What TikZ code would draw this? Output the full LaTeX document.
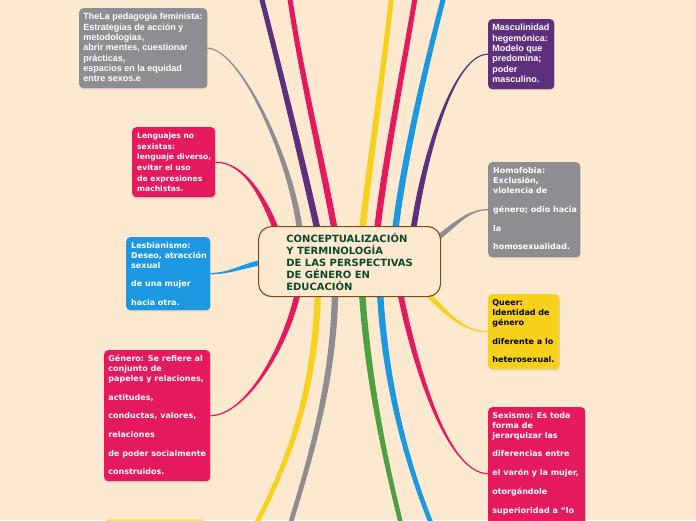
\documentclass[tikz,border=0pt]{standalone}
\usepackage{fontspec}
\setmainfont{DejaVu Sans}
\newfontfamily\arialf{Liberation Sans}
\usetikzlibrary{calc,shadows}
\definecolor{bgc}{HTML}{FDE8D0}
\definecolor{grayc}{HTML}{8E8E92}
\definecolor{pinkc}{HTML}{E5195E}
\definecolor{bluec}{HTML}{1B98E0}
\definecolor{purplec}{HTML}{5E2F7D}
\definecolor{yellowc}{HTML}{F8D11C}
\definecolor{greenc}{HTML}{4CA040}
\definecolor{brownc}{HTML}{7B4A1C}
\definecolor{titlec}{HTML}{0C4A2C}
\pgfdeclarelayer{bglayer}
\pgfdeclarelayer{linelayer}
\pgfsetlayers{bglayer,linelayer,main}
% tapered branch: #1 colour, #2 start (inside centre), #3 #4 controls, #5 end, #6 #7 half widths
\newcommand\taperlink[7]{%
  \path (#2) coordinate (tp0) (#3) coordinate (tp1) (#4) coordinate (tp2) (#5) coordinate (tp3);
  \path ($(tp0)!#6!90:(tp1)$) coordinate (tpa) ($(tp0)!#6!-90:(tp1)$) coordinate (tpb)
        ($(tp3)!#7!-90:(tp2)$) coordinate (tpc) ($(tp3)!#7!90:(tp2)$) coordinate (tpd);
  \fill[#1] (tpa) .. controls ($(tp1)+(tpa)-(tp0)$) and ($(tp2)+(tpc)-(tp3)$) .. (tpc)
     -- (tpd) .. controls ($(tp2)+(tpd)-(tp3)$) and ($(tp1)+(tpb)-(tp0)$) .. (tpb) -- cycle;
}
\tikzset{
  mmbox/.style={draw=none, fill=#1, rounded corners=4pt, inner sep=0pt, anchor=north west,
    drop shadow={opacity=0.22, shadow xshift=0.6pt, shadow yshift=-1.2pt}},
  mmtxt/.style={anchor=north west, inner sep=0pt, align=left, text=white,
    font=\bfseries\fontsize{8}{9.8}\selectfont},
  mmarial/.style={mmtxt, font=\arialf\bfseries\fontsize{9}{10.35}\selectfont},
}
\begin{document}
\begin{tikzpicture}[x=1pt,y=-1pt]
\useasboundingbox (0,0) rectangle (696,520);
\begin{pgfonlayer}{bglayer}
\fill[bgc] (0,0) rectangle (696,520);
\end{pgfonlayer}

% ---- boxes ----
\node[mmbox=grayc, minimum width=128, minimum height=80] (ped) at (79,8) {};
\node[mmarial] (pedt) at ($(ped.north west)+(4.2,3)$) {\rule{0pt}{8.5pt}TheLa pedagogia feminista:\\Estrategias de acción y\\metodologias,\\abrir mentes, cuestionar\\prácticas,\\espacios en la equidad\\entre sexos.e};

\node[mmbox=pinkc, minimum width=83, minimum height=70] (leng) at (132,127) {};
\node[mmtxt, font=\bfseries\fontsize{7.6}{10.6}\selectfont] (lengt) at ($(leng.north west)+(5,3)$) {\rule{0pt}{8.5pt}Lenguajes no\\sexistas:\\lenguaje diverso,\\evitar el uso\\de expresiones\\machistas.};

\node[mmbox=bluec, minimum width=84, minimum height=73] (lesb) at (126,237) {};
\node[mmtxt] (lesbt) at ($(lesb.north west)+(5,3)$) {\rule{0pt}{8.5pt}Lesbianismo:\\Deseo, atracción\\sexual\\[8.5pt]de una mujer\\[9pt]hacia otra.};

\node[mmbox=pinkc, minimum width=106, minimum height=131] (gen) at (104,350) {};
\node[mmtxt] (gent) at ($(gen.north west)+(4.2,3)$) {\rule{0pt}{8.5pt}Género: Se refiere al\\conjunto de\\papeles y relaciones,\\[9pt]actitudes,\\[9pt]conductas, valores,\\[9pt]relaciones\\[8.5pt]de poder socialmente\\[9pt]construidos.};

\node[mmbox=yellowc, fill opacity=0.6, minimum width=102, minimum height=40] (ybot) at (104,519.2) {};

\node[mmbox=purplec, minimum width=66, minimum height=70] (masc) at (488,19) {};
\node[mmarial] (masct) at ($(masc.north west)+(4.2,3)$) {\rule{0pt}{8.5pt}Masculinidad\\hegemónica:\\Modelo que\\predomina;\\poder\\masculino.};

\node[mmbox=grayc, minimum width=92, minimum height=95] (homo) at (488,162) {};
\node[mmtxt] (homot) at ($(homo.north west)+(5,3)$) {\rule{0pt}{8.5pt}Homofobia:\\Exclusión,\\violencia de\\[9.5pt]género; odio hacia\\[9pt]la\\[8.5pt]homosexualidad.};

\node[mmbox=yellowc, minimum width=71, minimum height=75] (queer) at (488,294) {};
\node[mmtxt, text=black] (queert) at ($(queer.north west)+(4.2,3)$) {\rule{0pt}{8.5pt}Queer:\\Identidad de\\género\\[9pt]diferente a lo\\[8.5pt]heterosexual.};

\node[mmbox=pinkc, minimum width=97, minimum height=133] (sex) at (488,407) {};
\node[mmtxt] (sext) at ($(sex.north west)+(4.2,3)$) {\rule{0pt}{8.5pt}Sexismo: Es toda\\forma de\\jerarquizar las\\[8.5pt]diferencias entre\\[9pt]el varón y la mujer,\\[9pt]otorgándole\\[9pt]superioridad a “lo};

% ---- centre ----
\node[draw=brownc, line width=1.1pt, fill=bgc, rounded corners=13pt, minimum width=182, minimum height=70,
  anchor=north west, align=left, text=titlec, font=\bfseries\fontsize{10}{12}\selectfont] (ctr) at (258,226)
  {CONCEPTUALIZACIÓN\\Y TERMINOLOGÍA\\DE LAS PERSPECTIVAS\\DE GÉNERO EN\\EDUCACIÓN};

% ---- free ends off the picture ----
\coordinate (t1) at (260,-8);
\coordinate (t2) at (289,-8);
\coordinate (t3) at (392,-8);
\coordinate (t4) at (416,-8);
\coordinate (t5) at (445,-8);
\coordinate (b1) at (254,528);
\coordinate (b2) at (289,528);
\coordinate (b3) at (402,528);
\coordinate (b4) at (433,528);

\begin{pgfonlayer}{linelayer}
% off-picture branches
\taperlink{purplec}{318,232}{302,160}{280,70}{t1}{3.2pt}{2.5pt}
\taperlink{pinkc}{335,232}{322,160}{300,70}{t2}{3.2pt}{2.5pt}
\taperlink{yellowc}{362,232}{370,160}{385,60}{t3}{3.2pt}{2.5pt}
\taperlink{pinkc}{377,232}{385,160}{405,60}{t4}{3.2pt}{2.5pt}
\taperlink{bluec}{395,232}{405,150}{430,50}{t5}{3.2pt}{2.5pt}
\taperlink{yellowc}{318,292}{315,390}{290,460}{b1}{3.2pt}{2.3pt}
\taperlink{grayc}{335,292}{334,380}{310,460}{b2}{3.2pt}{2.3pt}
\taperlink{greenc}{362,292}{368,380}{385,460}{b3}{3.2pt}{2.3pt}
\taperlink{bluec}{380,292}{385,380}{405,460}{b4}{3.2pt}{2.3pt}
% branches to boxes
\taperlink{grayc}{300,232}{292,160}{240,48}{ped.east}{2.9pt}{0.6pt}
\taperlink{pinkc}{277,232}{265,200}{245,162}{leng.east}{2.9pt}{0.6pt}
\taperlink{bluec}{264,262}{245,265}{230,273.5}{lesb.east}{2.6pt}{0.7pt}
\taperlink{pinkc}{298,292}{285,350}{245,415.5}{gen.east}{2.9pt}{0.6pt}
\taperlink{purplec}{413,232}{425,150}{455,54}{masc.west}{2.9pt}{0.6pt}
\taperlink{grayc}{435,240}{455,225}{468,209.5}{homo.west}{2.6pt}{0.6pt}
\taperlink{yellowc}{425,292}{445,310}{460,331.5}{queer.west}{2.6pt}{0.6pt}
\taperlink{pinkc}{400,292}{418,380}{450,473.5}{sex.west}{2.9pt}{0.6pt}
\end{pgfonlayer}
\end{tikzpicture}
\end{document}
